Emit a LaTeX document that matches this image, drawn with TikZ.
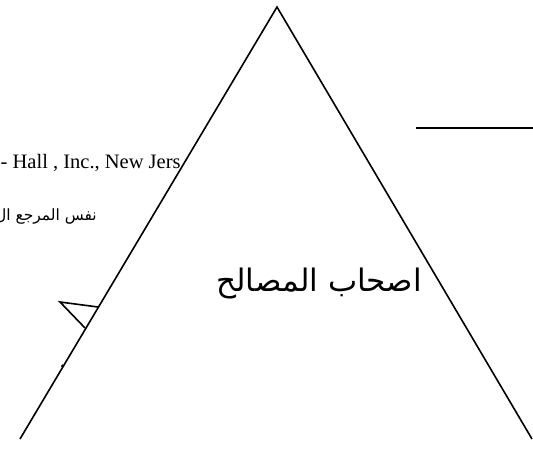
\documentclass[tikz,border=0pt]{standalone}
\usepackage{fontspec}
\setmainfont{Liberation Serif}
\newfontfamily\arabicfont[Script=Arabic]{DejaVu Sans}
\TeXXeTstate=1
\usetikzlibrary{positioning}
\tikzset{
  edgeline/.style={line width=1.6pt,black},
  ruleline/.style={line width=2.4pt,black},
  reftext/.style={inner sep=0pt,font=\fontsize{20.5}{24}\selectfont},
  notetext/.style={inner sep=0pt,font=\arabicfont\fontsize{15.5}{19}\selectfont},
  titletext/.style={inner sep=0pt,font=\arabicfont\fontsize{31}{36}\selectfont}
}

\begin{document}
\begin{tikzpicture}[x=1pt,y=-1pt]
  \useasboundingbox (0,0) rectangle (533,450);
  % footnote lines behind the triangle
  \node[reftext,anchor=base west] (ref) at (0.5,168) {- Hall , Inc., New Jers};
  \node[notetext,anchor=base east] (same) at (97,220) {\beginR نفس المرجع ال\endR};
  % small wedge on the left side
  \coordinate (wa) at (98,307);
  \coordinate (wtip) at (60,302);
  \coordinate (wb) at (85,328);
  \draw[edgeline] (wa)--(wtip)--(wb);
  % big triangle
  \coordinate (top) at (277,7);
  \coordinate (bl) at (20,439);
  \coordinate (br) at (532,439);
  \fill[white] (top)--(bl)--(br)--cycle;
  \draw[edgeline] (bl)--(top)--(br);
  \fill (62.5,366) circle (1.6);
  % rule at top right
  \coordinate (ra) at (416,128);
  \coordinate (rb) at (533,128);
  \draw[ruleline] (ra)--(rb);
  \node[titletext,anchor=base] (stake) at (319,291) {\beginR اصحاب المصالح\endR};
\end{tikzpicture}
\end{document}
